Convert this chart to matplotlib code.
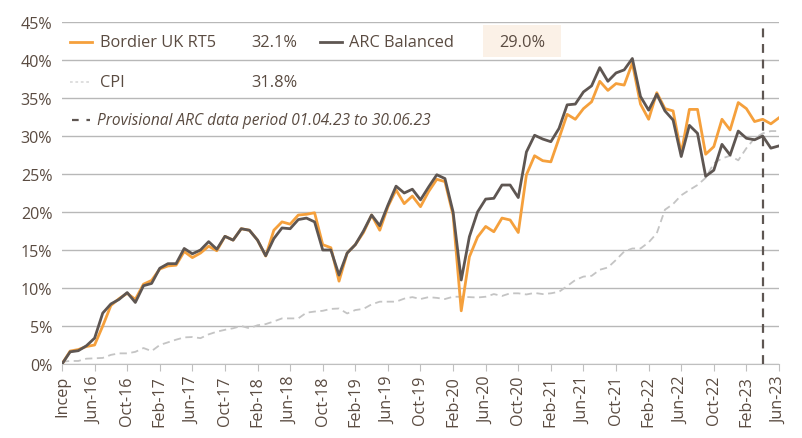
import matplotlib
matplotlib.use("Agg")
import matplotlib.pyplot as plt
import numpy as np
import pandas as pd
from matplotlib.patches import Rectangle
from matplotlib.ticker import FuncFormatter

# monthly cumulative returns (%) from inception (Feb-16) to Jun-23
bordier = [0.0, 1.7, 1.9, 2.3, 2.5, 5.0, 7.7, 8.6, 9.3, 8.5,
           10.5, 11.0, 12.5, 12.9, 13.0, 14.8, 14.0, 14.6, 15.5, 14.9,
           16.8, 16.3, 17.8, 17.6, 16.3, 14.2, 17.6, 18.7, 18.4, 19.6,
           19.7, 19.9, 15.7, 15.3, 10.9, 14.6, 15.7, 17.3, 19.6, 17.6,
           20.7, 22.9, 21.1, 22.1, 20.7, 22.7, 24.3, 24.0, 19.6, 7.0,
           14.1, 16.7, 18.1, 17.4, 19.2, 18.95, 17.3, 24.9, 27.4, 26.75,
           26.6, 29.7, 32.85, 32.2, 33.6, 34.5, 37.2, 36.0, 36.9, 36.7,
           39.6, 34.2, 32.2, 35.7, 33.6, 33.3, 27.7, 33.5, 33.5, 27.6,
           28.6, 32.2, 30.8, 34.4, 33.6, 31.9, 32.2, 31.6, 32.4]
arc = [0.0, 1.6, 1.75, 2.4, 3.4, 6.7, 7.9, 8.5, 9.4, 8.1,
       10.3, 10.6, 12.6, 13.2, 13.2, 15.2, 14.5, 15.0, 16.1, 15.1,
       16.8, 16.3, 17.8, 17.6, 16.3, 14.25, 16.5, 17.9, 17.8, 19.0,
       19.2, 18.7, 15.0, 15.0, 11.7, 14.6, 15.7, 17.5, 19.6, 18.2,
       20.9, 23.4, 22.5, 23.0, 21.6, 23.3, 24.9, 24.4, 20.0, 11.05,
       16.75, 20.0, 21.7, 21.8, 23.55, 23.55, 21.9, 27.9, 30.1, 29.6,
       29.25, 31.0, 34.1, 34.2, 35.8, 36.6, 39.0, 37.2, 38.3, 38.7,
       40.2, 35.2, 33.4, 35.5, 33.3, 32.1, 27.3, 31.4, 30.35, 24.7,
       25.5, 28.9, 27.5, 30.65, 29.7, 29.5, 30.0, 28.4, 28.7]
cpi = [0.3, 0.4, 0.4, 0.7, 0.75, 0.8, 1.2, 1.4, 1.4, 1.6,
       2.1, 1.7, 2.5, 2.85, 3.2, 3.5, 3.55, 3.4, 3.9, 4.25,
       4.5, 4.7, 5.0, 4.7, 5.1, 5.25, 5.6, 6.0, 6.0, 6.0,
       6.75, 6.9, 7.0, 7.25, 7.3, 6.65, 7.1, 7.25, 7.85, 8.2,
       8.2, 8.2, 8.6, 8.8, 8.55, 8.8, 8.7, 8.55, 8.85, 8.85,
       8.8, 8.75, 8.85, 9.2, 8.95, 9.3, 9.3, 9.15, 9.35, 9.2,
       9.3, 9.5, 10.25, 11.05, 11.5, 11.6, 12.4, 12.7, 13.7, 14.8,
       15.2, 15.2, 16.0, 17.2, 20.3, 21.05, 22.2, 22.9, 23.55, 24.5,
       26.4, 27.05, 27.4, 26.8, 28.4, 29.7, 30.35, 30.65, 30.65]

months = pd.date_range("2016-02-01", periods=len(arc), freq="MS")
month_labels = ["Incep"] + [d.strftime("%b-%y") for d in months[1:]]
provisional_idx = 86  # Apr-23

legend_rows = [("Bordier UK RT5", "32.1%"), ("ARC Balanced", "29.0%"), ("CPI", "31.8%")]
provisional_text = "Provisional ARC data period 01.04.23 to 30.06.23"

c_orange = "#f5a03c"
c_dark = "#5e5652"
c_cpi = "#c4c4c4"
c_text = "#5a4b41"
c_grid = "#b8b8b8"

plt.rcParams["font.family"] = ["Open Sans", "DejaVu Sans"]

fig = plt.figure(figsize=(8.03, 4.39), dpi=100)
ax = fig.add_axes([62 / 803, 1 - 365 / 439, 717 / 803, 342 / 439])

x = np.arange(len(arc))
ax.plot(x, cpi, color=c_cpi, lw=1.3, ls=(0, (4, 2.5)), zorder=2)
ax.plot(x, bordier, color=c_orange, lw=2.0, zorder=3)
ax.plot(x, arc, color=c_dark, lw=2.0, zorder=4)
ax.axvline(provisional_idx, color=c_dark, lw=1.6, ls=(0, (4, 3)), zorder=5)

ax.set_xlim(0, len(arc) - 1)
ax.set_ylim(0, 45)
ax.set_yticks(np.arange(0, 46, 5))
ax.yaxis.set_major_formatter(FuncFormatter(lambda v, p: f"{v:.0f}%"))
ax.grid(axis="y", color=c_grid, lw=1.0)
ax.set_axisbelow(True)

tick_pos = x[::4]
ax.set_xticks(tick_pos)
ax.set_xticklabels([month_labels[i] for i in tick_pos], rotation=90)

for s in ["top", "right", "left"]:
    ax.spines[s].set_visible(False)
ax.spines["bottom"].set_color("#bfbfbf")
ax.tick_params(axis="y", length=0, labelsize=11.6, labelcolor=c_text, pad=7)
ax.tick_params(axis="x", length=5, color="#bfbfbf", labelsize=11.6, labelcolor=c_text, pad=3)


def axx(px):
    return (px - 62) / 717


def axy(py):
    return (365 - py) / 342


tr = ax.transAxes
fs = 11.8
# row 1
ax.plot([axx(70), axx(92)], [axy(43)] * 2, color=c_orange, lw=2.0, transform=tr, clip_on=False)
ax.text(axx(100), axy(43), legend_rows[0][0], transform=tr, va="center", fontsize=fs, color=c_text)
ax.text(axx(251), axy(43), legend_rows[0][1], transform=tr, va="center", fontsize=fs, color=c_text)
ax.plot([axx(320), axx(342)], [axy(43)] * 2, color=c_dark, lw=2.0, transform=tr, clip_on=False)
ax.text(axx(349), axy(43), legend_rows[1][0], transform=tr, va="center", fontsize=fs, color=c_text)
ax.add_patch(Rectangle((axx(483), axy(58)), axx(561) - axx(483), axy(26) - axy(58),
                       transform=tr, facecolor="#fbf1e7", edgecolor="none", zorder=1))
ax.text(axx(522), axy(43), legend_rows[1][1], transform=tr, va="center", ha="center",
        fontsize=fs, color=c_text, zorder=2)
# row 2
ax.plot([axx(70), axx(90)], [axy(83)] * 2, color="#dcdcdc", lw=1.3, ls=(0, (1.5, 1.5)),
        transform=tr, clip_on=False)
ax.text(axx(100), axy(83), legend_rows[2][0], transform=tr, va="center", fontsize=fs, color=c_text)
ax.text(axx(251), axy(83), legend_rows[2][1], transform=tr, va="center", fontsize=fs, color=c_text)
# row 3
ax.plot([axx(72), axx(90)], [axy(121)] * 2, color=c_dark, lw=1.6, ls=(0, (3, 3.5)),
        transform=tr, clip_on=False)
ax.text(axx(97), axy(121), provisional_text, transform=tr, va="center", fontsize=11.2,
        color=c_text, style="italic")

fig.savefig("out.png", dpi=100)
